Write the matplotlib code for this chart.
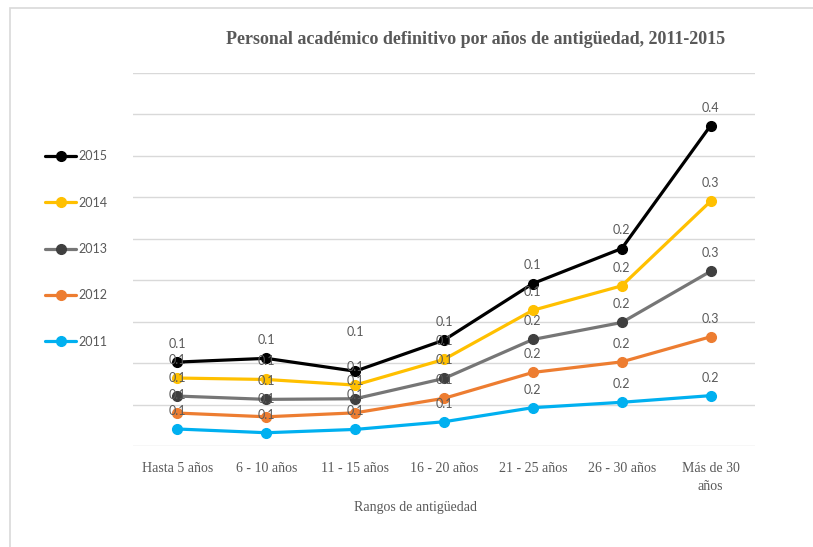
import matplotlib
matplotlib.use("Agg")
import matplotlib.pyplot as plt
from matplotlib.patches import Rectangle
import numpy as np

# datos (valores por serie, apilados)
rangos = ["Hasta 5 años", "6 - 10 años", "11 - 15 años", "16 - 20 años",
          "21 - 25 años", "26 - 30 años", "Más de 30\naños"]
v2011 = [0.082, 0.064, 0.080, 0.117, 0.185, 0.211, 0.243]
v2012 = [0.077, 0.077, 0.080, 0.113, 0.170, 0.195, 0.284]
v2013 = [0.082, 0.084, 0.068, 0.096, 0.159, 0.190, 0.316]
v2014 = [0.087, 0.096, 0.066, 0.092, 0.141, 0.177, 0.338]
v2015 = [0.077, 0.102, 0.067, 0.093, 0.129, 0.180, 0.365]

series = [("2011", v2011, "#00B0F0", "#00B0F0"),
          ("2012", v2012, "#ED7D31", "#ED7D31"),
          ("2013", v2013, "#767676", "#3F3F3F"),
          ("2014", v2014, "#FFC000", "#FFC000"),
          ("2015", v2015, "#000000", "#000000")]

# etiqueta movida a mano en el original
desplazada = {("2015", 2): 28}

gris = "#595959"
fig = plt.figure(figsize=(8.13, 5.47), dpi=100)
ax = fig.add_axes([133 / 813, 1 - 446 / 547, 622 / 813, 373 / 547])

# borde del area del grafico
fig.patches.append(Rectangle((10 / 813, -0.1), 1.2, 1 - 8 / 547 + 0.1,
                             transform=fig.transFigure, fill=False,
                             edgecolor="#D9D9D9", lw=1.2))

x = np.arange(len(rangos))
acum = np.zeros(len(rangos))
lineas = {}
for nombre, vals, col, mcol in series:
    acum = acum + np.array(vals)
    ln, = ax.plot(x, acum, color=col, lw=2.3, marker="o", markersize=7,
                  markerfacecolor=mcol, markeredgecolor=mcol, label=nombre,
                  zorder=3, solid_capstyle="round")
    lineas[nombre] = ln
    for i, (xi, yi, v) in enumerate(zip(x, acum, vals)):
        off = desplazada.get((nombre, i), 13)
        ax.annotate(f"{v:.1f}", (xi, yi), xytext=(0, off), textcoords="offset points",
                    ha="center", va="center", fontsize=9, color=gris,
                    family="Lato", zorder=4)

ax.set_xlim(-0.5, len(rangos) - 0.5)
ax.set_ylim(0, 1.8)
ax.set_yticks(np.arange(0, 1.81, 0.2))
ax.yaxis.grid(True, color="#D9D9D9", lw=1)
ax.set_axisbelow(True)
ax.tick_params(axis="y", left=False, labelleft=False)
ax.tick_params(axis="x", bottom=False, pad=8)
for s in ["top", "right", "left", "bottom"]:
    ax.spines[s].set_visible(False)
ax.set_xticks(x)
ax.set_xticklabels(rangos, family="Liberation Serif", fontsize=10, color=gris,
                   linespacing=1.5)

fig.text(415 / 813, 1 - 507 / 547, "Rangos de antigüedad", ha="center", va="center",
         family="Liberation Serif", fontsize=10, color=gris)
fig.text(476 / 813, 1 - 40 / 547,
         "Personal académico definitivo por años de antigüedad, 2011-2015",
         ha="center", va="center", family="Liberation Serif", fontsize=13,
         fontweight="bold", color=gris)

orden = ["2015", "2014", "2013", "2012", "2011"]
leg = fig.legend([lineas[k] for k in orden], orden, loc="center left",
                 bbox_to_anchor=(40 / 813, 1 - 249 / 547), frameon=False,
                 prop={"family": "Lato", "size": 9}, labelspacing=2.75,
                 handlelength=2.5, handletextpad=0.2, borderaxespad=0)
for t in leg.get_texts():
    t.set_color(gris)

fig.savefig("out.png", dpi=100, facecolor="white")
